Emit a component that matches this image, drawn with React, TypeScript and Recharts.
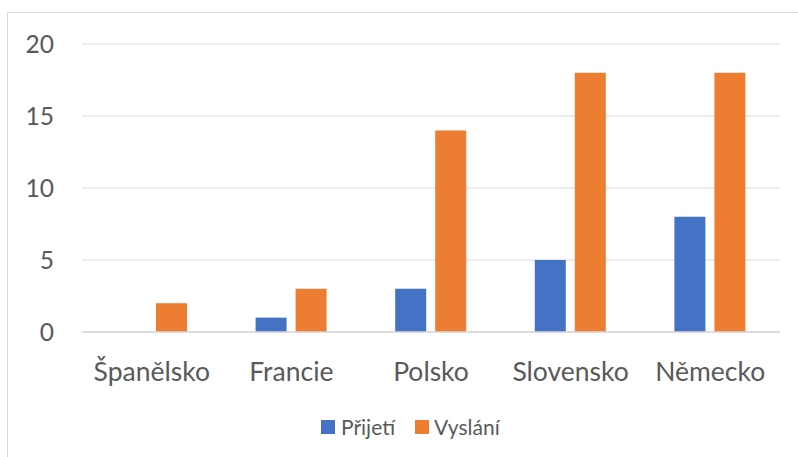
import React from 'react';
import { BarChart, Bar, XAxis, YAxis, CartesianGrid } from 'recharts';

const categories = ['Španělsko', 'Francie', 'Polsko', 'Slovensko', 'Německo'];
const prijeti = [0, 1, 3, 5, 8];
const vyslani = [2, 3, 14, 18, 18];
const yTicks = [0, 5, 10, 15, 20];

const data = categories.map((c, i) => ({ name: c, 'Přijetí': prijeti[i], 'Vyslání': vyslani[i] }));

const FONT = 'Lato, "Open Sans", sans-serif';
const TEXT = '#595959';
const BLUE = '#4472C4';
const ORANGE = '#ED7D31';

const LegendBox = () => (
  <div style={{ position: 'absolute', left: 321, top: 414, display: 'flex', alignItems: 'center', fontFamily: FONT, fontSize: 21, color: TEXT, lineHeight: '26px' }}>
    <span style={{ display: 'inline-block', width: 14, height: 14, background: BLUE, marginRight: 6 }} />
    <span style={{ marginRight: 20 }}>Přijetí</span>
    <span style={{ display: 'inline-block', width: 14, height: 14, background: ORANGE, marginRight: 5 }} />
    <span>Vyslání</span>
  </div>
);

export default function App() {
  return (
    <div style={{ position: 'absolute', left: 0, top: 0, width: 798, height: 457, background: '#fff', overflow: 'hidden' }}>
      <div style={{ position: 'absolute', left: 7, top: 12, width: 820, height: 480, border: '1px solid #D9D9D9' }} />
      <div style={{ position: 'absolute', left: 0, top: 0 }}>
        <BarChart
          width={798}
          height={457}
          data={data}
          margin={{ top: 44, right: 18, left: 22, bottom: 65 }}
          barGap={9}
          barSize={31}
        >
          <CartesianGrid vertical={false} stroke="#D9D9D9" strokeWidth={1} />
          <XAxis
            dataKey="name"
            height={60}
            axisLine={{ stroke: '#D9D9D9', strokeWidth: 1.5 }}
            tickLine={false}
            tickSize={0}
            tickMargin={30}
            tick={{ fill: TEXT, fontSize: 26.5, fontFamily: FONT }}
            interval={0}
          />
          <YAxis
            width={60}
            domain={[0, 20]}
            ticks={yTicks}
            axisLine={false}
            tickLine={false}
            tickSize={0}
            tickMargin={28}
            tick={{ fill: TEXT, fontSize: 24.5, fontFamily: FONT }}
          />
          <Bar dataKey="Přijetí" fill={BLUE} isAnimationActive={false} />
          <Bar dataKey="Vyslání" fill={ORANGE} isAnimationActive={false} />
        </BarChart>
      </div>
      <LegendBox />
    </div>
  );
}
